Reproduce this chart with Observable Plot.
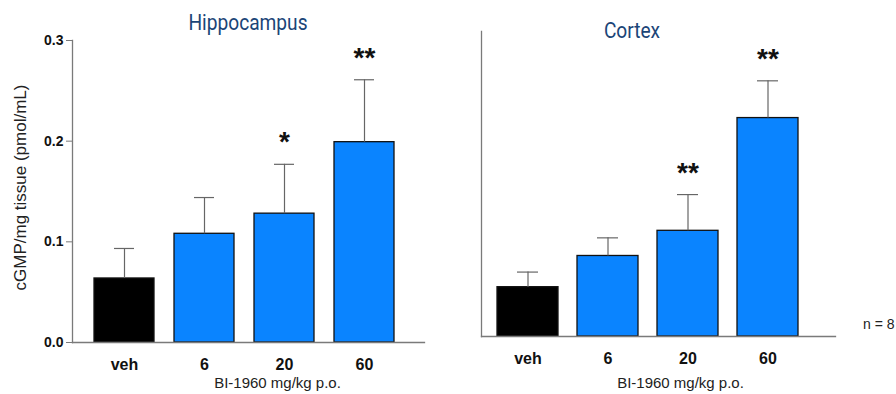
<!DOCTYPE html>
<html>
<head>
<meta charset="utf-8">
<script src="https://cdn.jsdelivr.net/npm/d3@7"></script>
<script src="https://cdn.jsdelivr.net/npm/@observablehq/plot@0.6"></script>
<style>
  html, body { margin: 0; padding: 0; background: #fff; }
  #wrap { position: relative; width: 896px; height: 394px; overflow: hidden; font-family: "Liberation Sans", Arial, sans-serif; }
  #left { position: absolute; left: 0; top: 0; }
  #right { position: absolute; left: 450px; top: 0; }
  .ttl { position: absolute; font-family: "Roboto", sans-serif; color: #1b4577; font-size: 22px; line-height: 26px; white-space: nowrap; transform: translateX(-50%) scaleX(0.87); transform-origin: center; }
  .nlab { position: absolute; left: 863px; top: 316px; font-size: 14px; color: #222; }
</style>
</head>
<body>
<div id="wrap">
  <div id="left"></div>
  <div id="right"></div>
  <div class="ttl" style="left:248px; top:10px;">Hippocampus</div>
  <div class="ttl" style="left:632px; top:18px;">Cortex</div>
  <div class="nlab">n = 8</div>
</div>
<script>
const categories = ["veh", "6", "20", "60"];
const hippoMean = [0.0636, 0.108, 0.128, 0.199];
const hippoErr = [0.0934, 0.144, 0.177, 0.261];
const hippoSig = ["", "", "*", "**"];
const cortexMean = [0.049, 0.080, 0.105, 0.217];
const cortexErr = [0.064, 0.098, 0.141, 0.254];
const cortexSig = ["", "", "**", "**"];
const yTicks = [0, 0.1, 0.2, 0.3];
const xTitle = "BI-1960 mg/kg p.o.";
const yTitle = "cGMP/mg tissue (pmol/mL)";

const BLUE = "#0a84ff";
const AXIS = "#7a7a7a";

function rows(means, errs, sigs) {
  return categories.map((c, i) => ({cat: c, mean: means[i], err: errs[i], sig: sigs[i]}));
}

function panel({data, width, marginLeft, marginRight, marginTop, marginBottom, yDomain, xPad, showY, titleX}) {
  const marks = [
    Plot.barY(data, {x: "cat", y: "mean", fill: d => d.cat === "veh" ? "#000" : BLUE, stroke: "#111", strokeWidth: 1.3}),
    Plot.ruleX(data, {x: "cat", y1: "mean", y2: "err", stroke: "#666", strokeWidth: 1.2}),
    Plot.tickY(data, {x: "cat", y: "err", stroke: "#666", strokeWidth: 1.2, insetLeft: 20, insetRight: 20}),
    Plot.text(data, {x: "cat", y: "err", text: "sig", dy: -22, fontSize: 28, fontWeight: "bold", fill: "#111", lineAnchor: "middle"}),
    Plot.frame({anchor: "left", stroke: AXIS, strokeWidth: 1.3}),
    Plot.frame({anchor: "bottom", stroke: AXIS, strokeWidth: 1.3}),
    Plot.axisX({tickSize: 0, tickPadding: 16, fontSize: 16, fontWeight: "bold", fill: "#111", label: null}),
    Plot.text([xTitle], {frameAnchor: "bottom", dx: titleX, dy: marginBottom - 7, fontSize: 15, fill: "#222", lineAnchor: "bottom"})
  ];
  if (showY) {
    marks.push(Plot.axisY({ticks: yTicks, tickFormat: d3.format(".1f"), tickSize: 6, tickPadding: 3, stroke: AXIS, fontSize: 14, fontWeight: "bold", fill: "#111", label: null}));
    marks.push(Plot.text([yTitle], {frameAnchor: "left", dx: -52, dy: -4, rotate: -90, textAnchor: "middle", fontSize: 17, fill: "#222"}));
  } else {
    marks.push(Plot.axisY({ticks: [], label: null}));
  }
  return Plot.plot({
    width, height: 394,
    marginLeft, marginRight, marginTop, marginBottom,
    style: {fontFamily: "'Liberation Sans', Arial, sans-serif", background: "transparent", overflow: "visible"},
    x: {domain: categories, ...xPad},
    y: {domain: yDomain},
    marks
  });
}

document.getElementById("left").appendChild(panel({
  data: rows(hippoMean, hippoErr, hippoSig),
  width: 450, marginLeft: 72, marginRight: 26, marginTop: 40, marginBottom: 52,
  yDomain: [0, 0.3],
  xPad: {paddingInner: 0.244, paddingOuter: 0.3, align: 0.433},
  showY: true, titleX: 29
}));

document.getElementById("right").appendChild(panel({
  data: rows(cortexMean, cortexErr, cortexSig),
  width: 446, marginLeft: 31, marginRight: 61, marginTop: 31, marginBottom: 58,
  yDomain: [0, 0.303],
  xPad: {paddingInner: 0.2375, paddingOuter: 0.331, align: 0.30},
  showY: false, titleX: 22
}));
</script>
</body>
</html>
